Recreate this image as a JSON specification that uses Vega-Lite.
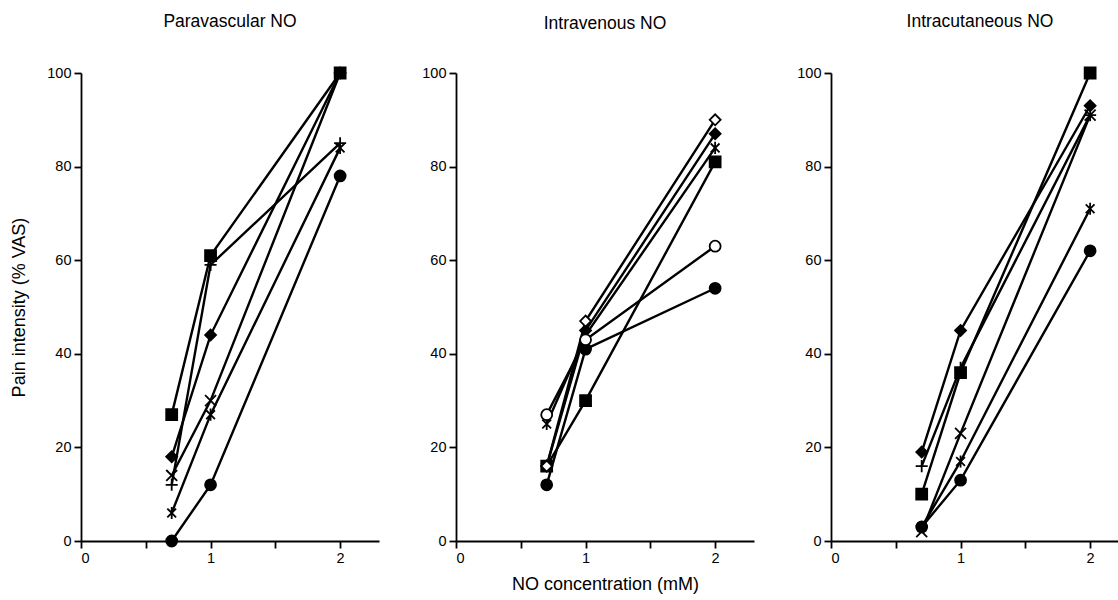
{
  "$schema": "https://vega.github.io/schema/vega-lite/v6.json",
  "padding": {"left": 10, "top": 13, "right": 0, "bottom": 0},
  "background": "white",
  "config": {
    "font": "Liberation Sans",
    "view": {"stroke": null},
    "axis": {
      "grid": false,
      "domainColor": "black",
      "domainWidth": 1.8,
      "tickColor": "black",
      "tickWidth": 1.8,
      "tickSize": 7,
      "labelColor": "black",
      "labelFontSize": 14.5,
      "labelPadding": 3,
      "titleColor": "black",
      "titleFontSize": 18,
      "titleFontWeight": "normal"
    },
    "title": {"fontSize": 17.5, "fontWeight": "normal", "color": "black", "anchor": "middle", "offset": 33},
    "concat": {"spacing": 42}
  },
  "data": {
    "values": [
      {"route": "Paravascular NO", "subject": "A", "conc": 0.7, "pain": 27},
      {"route": "Paravascular NO", "subject": "A", "conc": 1, "pain": 61},
      {"route": "Paravascular NO", "subject": "A", "conc": 2, "pain": 100},
      {"route": "Paravascular NO", "subject": "B", "conc": 0.7, "pain": 18},
      {"route": "Paravascular NO", "subject": "B", "conc": 1, "pain": 44},
      {"route": "Paravascular NO", "subject": "B", "conc": 2, "pain": 100},
      {"route": "Paravascular NO", "subject": "C", "conc": 0.7, "pain": 14},
      {"route": "Paravascular NO", "subject": "C", "conc": 1, "pain": 30},
      {"route": "Paravascular NO", "subject": "C", "conc": 2, "pain": 100},
      {"route": "Paravascular NO", "subject": "D", "conc": 0.7, "pain": 12},
      {"route": "Paravascular NO", "subject": "D", "conc": 1, "pain": 59},
      {"route": "Paravascular NO", "subject": "D", "conc": 2, "pain": 85},
      {"route": "Paravascular NO", "subject": "E", "conc": 0.7, "pain": 6},
      {"route": "Paravascular NO", "subject": "E", "conc": 1, "pain": 27},
      {"route": "Paravascular NO", "subject": "E", "conc": 2, "pain": 84},
      {"route": "Paravascular NO", "subject": "F", "conc": 0.7, "pain": 0},
      {"route": "Paravascular NO", "subject": "F", "conc": 1, "pain": 12},
      {"route": "Paravascular NO", "subject": "F", "conc": 2, "pain": 78},

      {"route": "Intravenous NO", "subject": "A", "conc": 0.7, "pain": 16},
      {"route": "Intravenous NO", "subject": "A", "conc": 1, "pain": 30},
      {"route": "Intravenous NO", "subject": "A", "conc": 2, "pain": 81},
      {"route": "Intravenous NO", "subject": "B", "conc": 0.7, "pain": 16},
      {"route": "Intravenous NO", "subject": "B", "conc": 1, "pain": 45},
      {"route": "Intravenous NO", "subject": "B", "conc": 2, "pain": 87},
      {"route": "Intravenous NO", "subject": "E", "conc": 0.7, "pain": 25},
      {"route": "Intravenous NO", "subject": "E", "conc": 1, "pain": 44},
      {"route": "Intravenous NO", "subject": "E", "conc": 2, "pain": 84},
      {"route": "Intravenous NO", "subject": "F", "conc": 0.7, "pain": 12},
      {"route": "Intravenous NO", "subject": "F", "conc": 1, "pain": 41},
      {"route": "Intravenous NO", "subject": "F", "conc": 2, "pain": 54},
      {"route": "Intravenous NO", "subject": "G", "conc": 0.7, "pain": 27},
      {"route": "Intravenous NO", "subject": "G", "conc": 1, "pain": 43},
      {"route": "Intravenous NO", "subject": "G", "conc": 2, "pain": 63},
      {"route": "Intravenous NO", "subject": "H", "conc": 0.7, "pain": 16},
      {"route": "Intravenous NO", "subject": "H", "conc": 1, "pain": 47},
      {"route": "Intravenous NO", "subject": "H", "conc": 2, "pain": 90},

      {"route": "Intracutaneous NO", "subject": "A", "conc": 0.7, "pain": 10},
      {"route": "Intracutaneous NO", "subject": "A", "conc": 1, "pain": 36},
      {"route": "Intracutaneous NO", "subject": "A", "conc": 2, "pain": 100},
      {"route": "Intracutaneous NO", "subject": "B", "conc": 0.7, "pain": 19},
      {"route": "Intracutaneous NO", "subject": "B", "conc": 1, "pain": 45},
      {"route": "Intracutaneous NO", "subject": "B", "conc": 2, "pain": 93},
      {"route": "Intracutaneous NO", "subject": "C", "conc": 0.7, "pain": 2},
      {"route": "Intracutaneous NO", "subject": "C", "conc": 1, "pain": 23},
      {"route": "Intracutaneous NO", "subject": "C", "conc": 2, "pain": 91},
      {"route": "Intracutaneous NO", "subject": "D", "conc": 0.7, "pain": 16},
      {"route": "Intracutaneous NO", "subject": "D", "conc": 1, "pain": 37},
      {"route": "Intracutaneous NO", "subject": "D", "conc": 2, "pain": 91},
      {"route": "Intracutaneous NO", "subject": "E", "conc": 0.7, "pain": 3},
      {"route": "Intracutaneous NO", "subject": "E", "conc": 1, "pain": 17},
      {"route": "Intracutaneous NO", "subject": "E", "conc": 2, "pain": 71},
      {"route": "Intracutaneous NO", "subject": "F", "conc": 0.7, "pain": 3},
      {"route": "Intracutaneous NO", "subject": "F", "conc": 1, "pain": 13},
      {"route": "Intracutaneous NO", "subject": "F", "conc": 2, "pain": 62}
    ]
  },
  "hconcat": [
    {
      "title": "Paravascular NO",
      "width": 298,
      "height": 468,
      "transform": [{"filter": "datum.route === 'Paravascular NO'"}],
      "encoding": {
        "x": {"field": "conc", "type": "quantitative", "scale": {"domain": [0, 2.3], "nice": false},
              "axis": {"values": [0, 0.5, 1, 1.5, 2], "labelExpr": "datum.value % 1 === 0 ? format(datum.value, 'd') : ''", "title": null}},
        "y": {"field": "pain", "type": "quantitative", "scale": {"domain": [0, 100], "nice": false},
              "axis": {"values": [0, 20, 40, 60, 80, 100], "title": "Pain intensity (% VAS)", "titlePadding": 18}}
      },
      "layer": [
        {"mark": {"type": "line", "color": "black", "strokeWidth": 2.4}, "encoding": {"detail": {"field": "subject"}, "order": {"field": "conc"}}},
        {"mark": {"type": "point", "filled": true, "stroke": "black", "strokeWidth": 1.8, "opacity": 1, "size": 120},
         "encoding": {
           "shape": {"field": "subject", "legend": null, "scale": {"domain": ["A","B","C","D","E","F","G","H"], "range": ["square","diamond","M-1,-1L1,1M-1,1L1,-1","M0,-1.1L0,1.1M-1.1,0L1.1,0","M-0.8,-0.8L0.8,0.8M-0.8,0.8L0.8,-0.8M0,-1.1L0,1.1","circle","circle","diamond"]}},
           "fill": {"field": "subject", "legend": null, "scale": {"domain": ["A","B","C","D","E","F","G","H"], "range": ["black","black","black","black","black","black","white","white"]}}
         }}
      ]
    },
    {
      "title": "Intravenous NO",
      "width": 298,
      "height": 468,
      "transform": [{"filter": "datum.route === 'Intravenous NO'"}],
      "encoding": {
        "x": {"field": "conc", "type": "quantitative", "scale": {"domain": [0, 2.3], "nice": false},
              "axis": {"values": [0, 0.5, 1, 1.5, 2], "labelExpr": "datum.value % 1 === 0 ? format(datum.value, 'd') : ''", "title": "NO concentration (mM)", "titlePadding": 11}},
        "y": {"field": "pain", "type": "quantitative", "scale": {"domain": [0, 100], "nice": false},
              "axis": {"values": [0, 20, 40, 60, 80, 100], "title": null}}
      },
      "layer": [
        {"mark": {"type": "line", "color": "black", "strokeWidth": 2.4}, "encoding": {"detail": {"field": "subject"}, "order": {"field": "conc"}}},
        {"mark": {"type": "point", "filled": true, "stroke": "black", "strokeWidth": 1.8, "opacity": 1, "size": 120},
         "encoding": {
           "shape": {"field": "subject", "legend": null, "scale": {"domain": ["A","B","C","D","E","F","G","H"], "range": ["square","diamond","M-1,-1L1,1M-1,1L1,-1","M0,-1.1L0,1.1M-1.1,0L1.1,0","M-0.8,-0.8L0.8,0.8M-0.8,0.8L0.8,-0.8M0,-1.1L0,1.1","circle","circle","diamond"]}},
           "fill": {"field": "subject", "legend": null, "scale": {"domain": ["A","B","C","D","E","F","G","H"], "range": ["black","black","black","black","black","black","white","white"]}}
         }}
      ]
    },
    {
      "title": "Intracutaneous NO",
      "width": 298,
      "height": 468,
      "transform": [{"filter": "datum.route === 'Intracutaneous NO'"}],
      "encoding": {
        "x": {"field": "conc", "type": "quantitative", "scale": {"domain": [0, 2.3], "nice": false},
              "axis": {"values": [0, 0.5, 1, 1.5, 2], "labelExpr": "datum.value % 1 === 0 ? format(datum.value, 'd') : ''", "title": null}},
        "y": {"field": "pain", "type": "quantitative", "scale": {"domain": [0, 100], "nice": false},
              "axis": {"values": [0, 20, 40, 60, 80, 100], "title": null}}
      },
      "layer": [
        {"mark": {"type": "line", "color": "black", "strokeWidth": 2.4}, "encoding": {"detail": {"field": "subject"}, "order": {"field": "conc"}}},
        {"mark": {"type": "point", "filled": true, "stroke": "black", "strokeWidth": 1.8, "opacity": 1, "size": 120},
         "encoding": {
           "shape": {"field": "subject", "legend": null, "scale": {"domain": ["A","B","C","D","E","F","G","H"], "range": ["square","diamond","M-1,-1L1,1M-1,1L1,-1","M0,-1.1L0,1.1M-1.1,0L1.1,0","M-0.8,-0.8L0.8,0.8M-0.8,0.8L0.8,-0.8M0,-1.1L0,1.1","circle","circle","diamond"]}},
           "fill": {"field": "subject", "legend": null, "scale": {"domain": ["A","B","C","D","E","F","G","H"], "range": ["black","black","black","black","black","black","white","white"]}}
         }}
      ]
    }
  ]
}
